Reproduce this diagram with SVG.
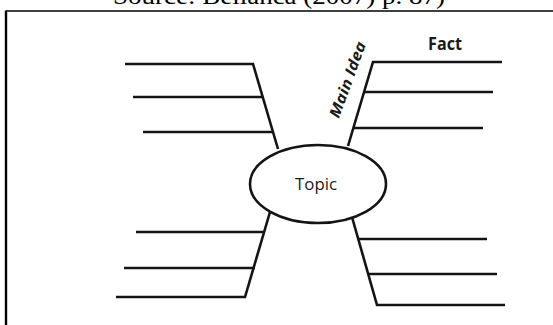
<svg xmlns="http://www.w3.org/2000/svg" width="553" height="325" viewBox="0 0 553 325">
<style>
.ln{stroke:#141414;stroke-width:2.6;fill:none;stroke-linecap:butt;stroke-linejoin:miter}
.lbl{font-family:"Open Sans","Liberation Sans",sans-serif;fill:#1a1a1a}
</style>
<rect width="553" height="325" fill="#fff"/>
<g id="caption">
<text x="279" y="4" font-family="Liberation Serif,serif" font-size="24" text-anchor="middle" textLength="332" lengthAdjust="spacingAndGlyphs" fill="#000">Source: Bellanca (2007) p. 87)</text>
</g>
<g id="frame" stroke="#000" fill="none">
<line x1="6" y1="11" x2="553" y2="11" stroke-width="1.5"/>
<line x1="6" y1="10.5" x2="6" y2="325" stroke-width="2.4"/>
</g>
<g id="connectors">
<polyline class="ln" points="125,64 253,64 278,149"/>
<line class="ln" x1="133" y1="97" x2="263" y2="97"/>
<line class="ln" x1="143" y1="132" x2="273" y2="132"/>
<polyline class="ln" points="502,62 373,62 348,146"/>
<line class="ln" x1="364" y1="92" x2="493" y2="92"/>
<line class="ln" x1="353" y1="128" x2="483" y2="128"/>
<polyline class="ln" points="270,212 245,297 116,297"/>
<line class="ln" x1="136" y1="232" x2="265" y2="232"/>
<line class="ln" x1="124" y1="268" x2="255" y2="268"/>
<polyline class="ln" points="352,217 377,305 505,305"/>
<line class="ln" x1="358" y1="239" x2="487" y2="239"/>
<line class="ln" x1="368" y1="274" x2="497" y2="274"/>
</g>
<g id="topic">
<ellipse cx="318" cy="184" rx="68" ry="39" fill="#fff" stroke="#141414" stroke-width="2.6"/>
<text class="lbl" x="316" y="190" font-size="17" text-anchor="middle" textLength="42" lengthAdjust="spacingAndGlyphs">Topic</text>
</g>
<g id="main-idea">
<text class="lbl" x="0" y="0" font-size="15" font-weight="bold" font-style="italic" text-anchor="middle" textLength="80" lengthAdjust="spacingAndGlyphs" transform="translate(352.5,81.5) rotate(-70)">Main Idea</text>
</g>
<g id="fact">
<text class="lbl" x="445" y="50" font-size="17" font-weight="bold" text-anchor="middle" textLength="34" lengthAdjust="spacingAndGlyphs">Fact</text>
</g>
</svg>
